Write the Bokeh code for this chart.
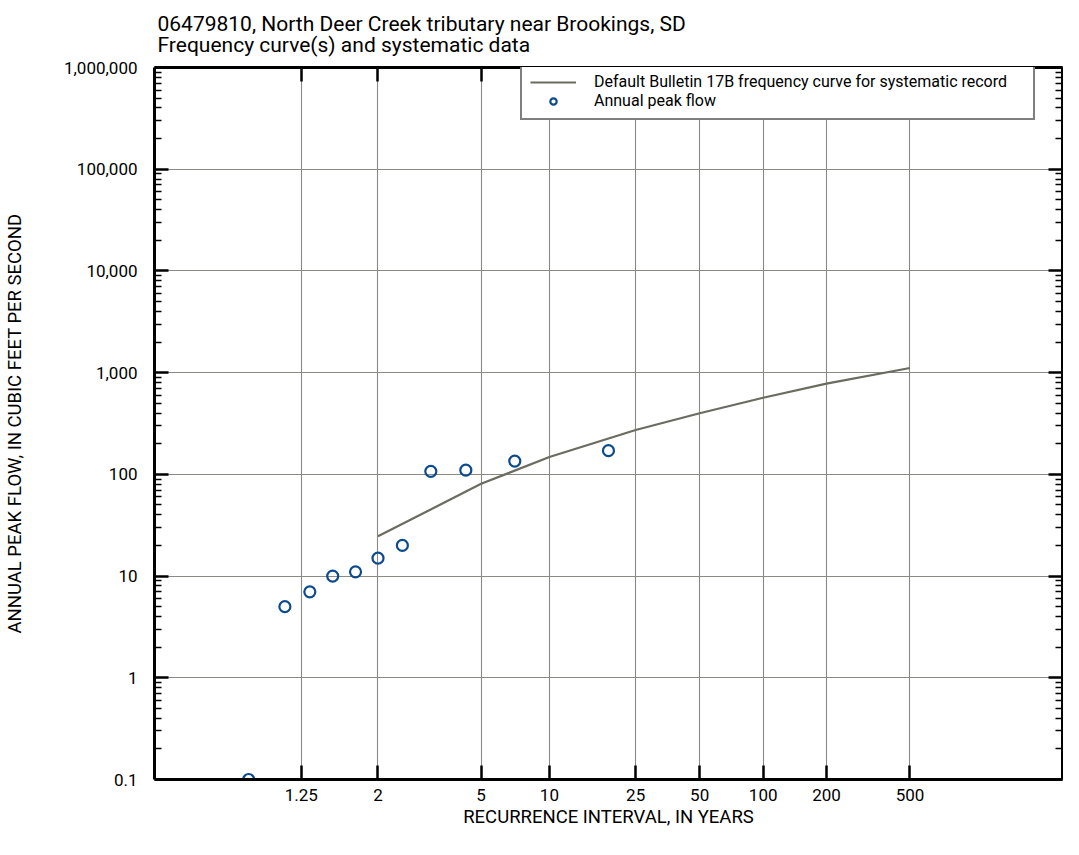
import numpy as np
from bokeh.plotting import figure
from bokeh.models import (LinearAxis, LogAxis, FixedTicker, CustomJSTickFormatter,
                          Title, Legend, LegendItem, Range1d)
from bokeh.embed import file_html
from bokeh.resources import INLINE

# ---------------- data ----------------
title_line1 = "06479810, North Deer Creek tributary near Brookings, SD"
title_line2 = "Frequency curve(s) and systematic data"
x_label = "RECURRENCE INTERVAL, IN YEARS"
y_label = "ANNUAL PEAK FLOW, IN CUBIC FEET PER SECOND"

x_tick_intervals = [1.25, 2, 5, 10, 25, 50, 100, 200, 500]
y_tick_values = [0.1, 1, 10, 100, 1000, 10000, 100000, 1000000]

curve_interval = [2, 5, 10, 25, 50, 100, 200, 500]
curve_flow = [24.6, 80.7, 148, 273, 399, 566, 781, 1110]

peak_interval = [18.67, 7.0, 4.31, 3.11, 2.43, 2.0, 1.70, 1.47, 1.30, 1.17, 1.06]
peak_flow = [171, 135, 110, 107, 20, 15, 11, 10, 7, 5, 0.1]

legend_curve = "Default Bulletin 17B frequency curve for systematic record"
legend_points = "Annual peak flow"

FONT = "Roboto"
CURVE_COLOR = "#6b6b60"
POINT_COLOR = "#0b4a8e"
GRID_COLOR = "#8a8a84"


def gumbel(t):
    """Gumbel (extreme value) probability scale for recurrence interval t."""
    t = np.asarray(t, dtype=float)
    return -np.log(-np.log(1.0 - 1.0 / t))


X_START, X_END = -2.09, 7.89
x_ticks = [float(v) for v in gumbel(x_tick_intervals)]
y_minor = [m * 10.0 ** k for k in range(-1, 6) for m in range(2, 10)]

p = figure(width=1063, height=831, y_axis_type="log",
           x_range=Range1d(X_START, X_END), y_range=Range1d(0.1, 1e6),
           output_backend="svg", toolbar_location=None,
           min_border_left=147, min_border_right=1,
           min_border_top=59, min_border_bottom=52)
p.outline_line_color = None
p.background_fill_color = "white"
p.border_fill_color = "white"

xt = FixedTicker(ticks=x_ticks)
yt = FixedTicker(ticks=y_tick_values, minor_ticks=y_minor)
xfmt = CustomJSTickFormatter(code="""
const T = 1/(1-Math.exp(-Math.exp(-tick)));
return String(Math.round(T*100)/100);
""")
yfmt = CustomJSTickFormatter(code="""
if (tick < 1) { return String(Math.round(tick*10)/10); }
return Math.round(tick).toLocaleString('en-US');
""")
blank = CustomJSTickFormatter(code="return '';")

xa = p.xaxis[0]
ya = p.yaxis[0]
xa.ticker = xt
xa.formatter = xfmt
ya.ticker = yt
ya.formatter = yfmt
ya.axis_label = y_label

top = LinearAxis(ticker=xt, formatter=blank)
right = LogAxis(ticker=yt, formatter=blank)
p.add_layout(top, "above")
p.add_layout(right, "right")

for ax in (xa, ya, top, right):
    ax.axis_line_color = "black"
    ax.axis_line_width = 3
    ax.major_tick_in = 14
    ax.major_tick_out = 0
    ax.major_tick_line_color = "black"
    ax.major_tick_line_width = 2.5
    ax.minor_tick_in = 7
    ax.minor_tick_out = 0
    ax.minor_tick_line_color = "black"
    ax.minor_tick_line_width = 1.5
    ax.major_label_text_font = FONT
    ax.major_label_text_font_size = "17px"
    ax.major_label_text_color = "black"
    ax.axis_label_text_font = FONT
    ax.axis_label_text_font_size = "18.5px"
    ax.axis_label_text_font_style = "normal"
    ax.axis_label_text_color = "black"

for ax in (top, right):
    ax.major_label_standoff = 0
    ax.axis_label_standoff = 0
    ax.major_label_text_font_size = "1px"

xa.major_label_standoff = 9
ya.major_label_standoff = 17
ya.axis_label_standoff = 35

p.xgrid.ticker = xt
p.ygrid.ticker = yt
p.xgrid.grid_line_color = GRID_COLOR
p.ygrid.grid_line_color = GRID_COLOR
p.xgrid.grid_line_width = 1.1
p.ygrid.grid_line_width = 1.1

curve = p.line(gumbel(curve_interval), curve_flow, line_color=CURVE_COLOR, line_width=2.2)
pts = p.scatter(gumbel(peak_interval), peak_flow, marker="circle", size=11,
                fill_color="white", fill_alpha=0.0, line_color=POINT_COLOR, line_width=2.2)

legend = Legend(items=[LegendItem(label=legend_curve, renderers=[curve]),
                       LegendItem(label=legend_points, renderers=[pts])],
                location=(366, 659))
legend.border_line_color = "black"
legend.border_line_width = 2
legend.background_fill_color = "white"
legend.background_fill_alpha = 1.0
legend.padding = 8
legend.spacing = 0
legend.margin = 0
legend.glyph_width = 46
legend.glyph_height = 16
legend.label_height = 16
legend.label_width = 431
legend.label_standoff = 18
legend.label_text_font = FONT
legend.label_text_font_size = "16px"
legend.label_text_color = "black"
p.add_layout(legend)

title = Title(text=title_line1 + "\n" + title_line2, align="left", text_font=FONT,
              text_font_size="21px", text_line_height=0.89, text_font_style="normal",
              text_color="black", offset=3, standoff=20)
p.add_layout(title, "above")

xtitle = Title(text=x_label, align="center", text_font=FONT, text_font_size="18.5px",
               text_font_style="normal", text_color="black", standoff=0)
p.add_layout(xtitle, "below")

open("out.html", "w").write(file_html(p, INLINE))
